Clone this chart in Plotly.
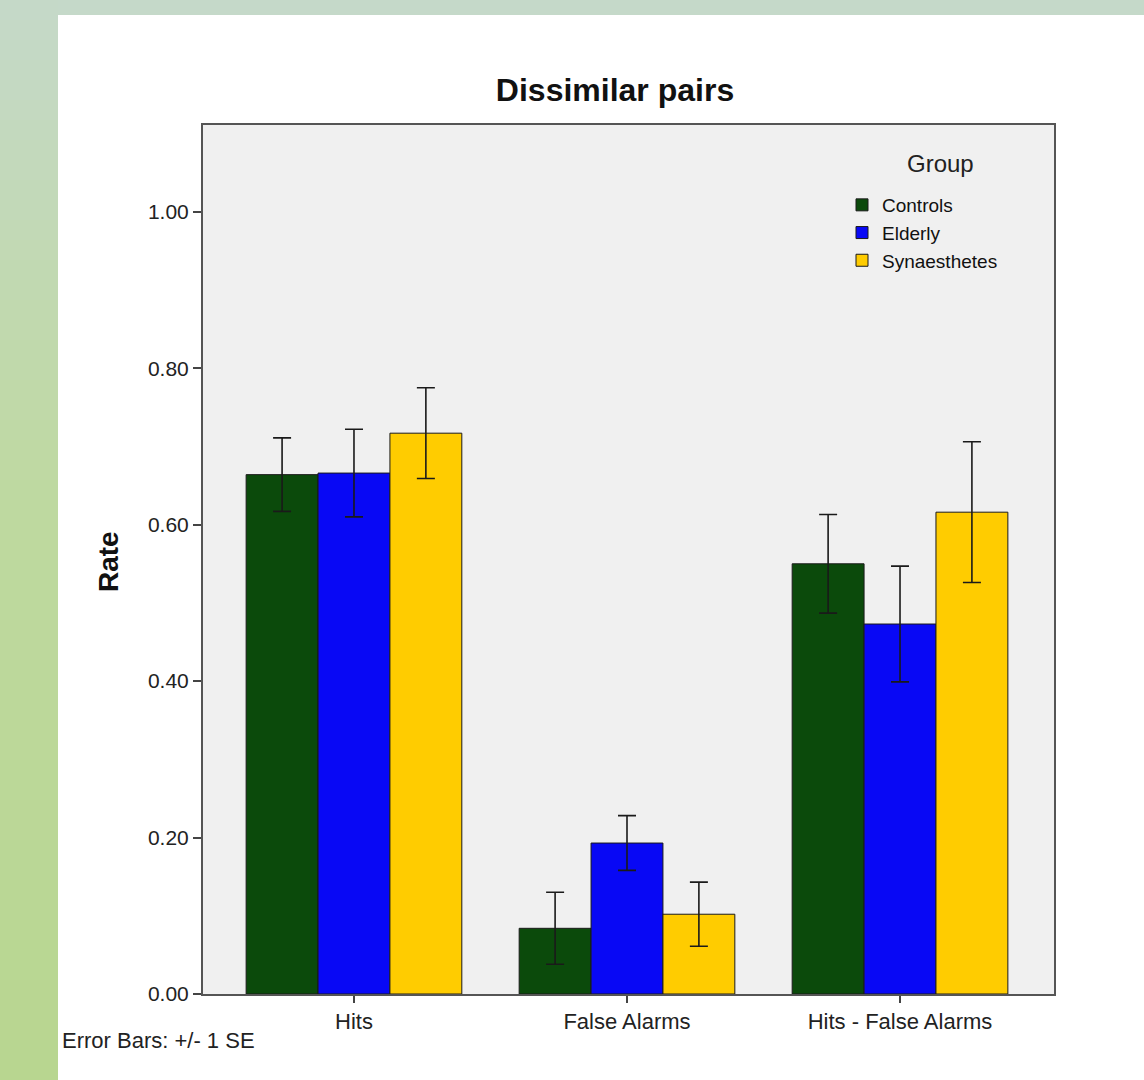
import plotly.graph_objects as go

categories = ["Hits", "False Alarms", "Hits - False Alarms"]
groups = ["Controls", "Elderly", "Synaesthetes"]
controls = [0.664, 0.084, 0.550]
elderly = [0.666, 0.193, 0.473]
synaesthetes = [0.717, 0.102, 0.616]
controls_se = [0.047, 0.046, 0.063]
elderly_se = [0.056, 0.035, 0.074]
synaesthetes_se = [0.058, 0.041, 0.090]
colors = ["#0B4A0B", "#0808F5", "#FFCC00"]
y_ticks = [0.0, 0.2, 0.4, 0.6, 0.8, 1.0]

W, H = 1144, 1080
L, R, T, B = 203, 90, 125, 86
pw, ph = W - L - R, H - T - B

def px(x):
    return (x - L) / pw

def py(y):
    return (H - B - y) / ph

fig = go.Figure()
for name, vals, se, col in zip(groups, [controls, elderly, synaesthetes],
                               [controls_se, elderly_se, synaesthetes_se], colors):
    fig.add_trace(go.Bar(
        name=name, x=categories, y=vals,
        marker=dict(color=col, line=dict(color="#1a1a1a", width=1)),
        error_y=dict(type="data", array=se, visible=True, color="#1a1a1a",
                     thickness=1.6, width=9),
    ))

shapes = []
# top strip
shapes.append(dict(type="rect", xref="paper", yref="paper", x0=px(0), x1=px(W), y0=py(15), y1=py(0),
                   fillcolor="#C5D9C9", line=dict(width=0), layer="below"))
# left gradient strip
stops = [(0, (0xC5, 0xD9, 0xC9)), (300, (0xC1, 0xD9, 0xB0)), (520, (0xBE, 0xD9, 0x9F)), (1080, (0xB8, 0xD6, 0x90))]
n = 54
for i in range(n):
    y0 = i * H / n
    y1 = (i + 1) * H / n
    ym = (y0 + y1) / 2
    for (a, ca), (b, cb) in zip(stops[:-1], stops[1:]):
        if a <= ym <= b:
            t = (ym - a) / (b - a)
            c = tuple(int(round(ca[k] + (cb[k] - ca[k]) * t)) for k in range(3))
            break
    shapes.append(dict(type="rect", xref="paper", yref="paper", x0=px(0), x1=px(58),
                       y0=py(y1 + 0.5), y1=py(y0),
                       fillcolor="rgb(%d,%d,%d)" % c, line=dict(width=0), layer="below"))

fig.update_layout(
    width=W, height=H,
    margin=dict(l=L, r=R, t=T, b=B, autoexpand=False),
    paper_bgcolor="white", plot_bgcolor="#F0F0F0",
    barmode="group", bargap=0.21, bargroupgap=0,
    font=dict(family="Arial, Liberation Sans, sans-serif", color="#222222", size=18),
    title=dict(text="<b>Dissimilar pairs</b>", x=px(615), xref="paper", xanchor="center",
               y=1 - 90 / H, yanchor="middle", font=dict(size=32, color="#111111")),
    xaxis=dict(range=[-0.553, 2.564], showgrid=False, zeroline=False,
               showline=True, linecolor="#555555", linewidth=2, mirror=True,
               ticks="outside", ticklen=7, tickcolor="#444444", tickwidth=2,
               tickfont=dict(size=22, color="#222222")),
    yaxis=dict(range=[0, 1.111], tickvals=y_ticks, tickformat=".2f", showgrid=False,
               zeroline=False, showline=True, linecolor="#555555", linewidth=2, mirror=True,
               ticks="outside", ticklen=8, tickcolor="#444444", tickwidth=1.5,
               tickfont=dict(size=21, color="#222222")),
    legend=dict(x=px(842), y=py(186), xanchor="left", yanchor="top",
                bgcolor="rgba(0,0,0,0)", borderwidth=0,
                font=dict(size=19, color="#111111"), tracegroupgap=0),
    shapes=shapes,
    annotations=[
        dict(text="Group", xref="paper", yref="paper", x=px(940), y=py(163),
             showarrow=False, font=dict(size=24, color="#222222"),
             xanchor="center", yanchor="middle"),
        dict(text="<b>Rate</b>", xref="paper", yref="paper", x=px(108), y=py(562),
             textangle=-90, showarrow=False, font=dict(size=28, color="#111111"),
             xanchor="center", yanchor="middle"),
        dict(text="Error Bars: +/- 1 SE", xref="paper", yref="paper", x=px(60), y=py(1040),
             showarrow=False, font=dict(size=22, color="#222222"), xanchor="left", yanchor="middle"),
    ],
)

fig.write_html("out.html", post_script="document.body.style.margin='0';",
               config={"displayModeBar": False})
